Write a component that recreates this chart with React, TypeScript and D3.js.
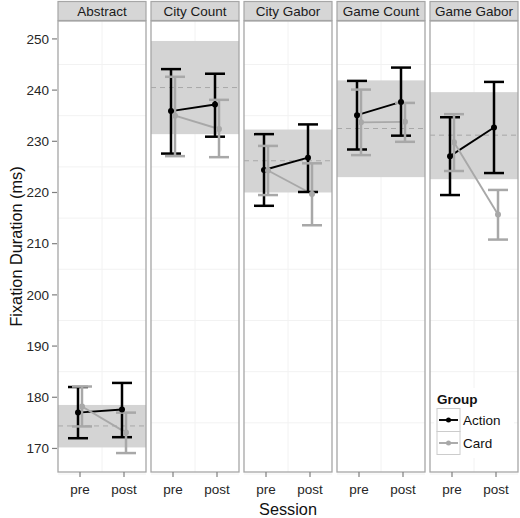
import React from "react";
import * as d3 from "d3";

const facets = ["Abstract", "City Count", "City Gabor", "Game Count", "Game Gabor"];
const sessions = ["pre", "post"];
const groups = ["Action", "Card"];

const actionMean = [[177.0, 177.6], [235.9, 237.2], [224.4, 226.8], [235.1, 237.7], [227.1, 232.7]];
const actionLower = [[172.0, 172.2], [227.6, 230.9], [217.4, 220.1], [228.4, 231.1], [219.5, 223.8]];
const actionUpper = [[182.0, 182.8], [244.1, 243.2], [231.4, 233.3], [241.8, 244.4], [234.7, 241.6]];

const cardMean = [[178.2, 173.1], [235.0, 232.4], [224.3, 219.7], [233.7, 233.8], [229.8, 215.7]];
const cardLower = [[174.3, 169.1], [227.1, 226.9], [219.5, 213.6], [227.3, 229.9], [224.2, 210.8]];
const cardUpper = [[182.1, 177.0], [242.6, 238.1], [229.1, 225.7], [240.1, 237.5], [235.3, 220.5]];

const bandLow = [170.2, 231.4, 220.0, 223.0, 222.6];
const bandHigh = [178.5, 249.6, 232.3, 241.9, 239.6];
const refLine = [174.4, 240.5, 226.2, 232.5, 231.2];

const yTicks = [170, 180, 190, 200, 210, 220, 230, 240, 250];
const yMinor = [165, 175, 185, 195, 205, 215, 225, 235, 245];

const W = 520;
const H = 518;
const top = 21;
const bottom = 472;
const left = 58;
const right = 518;
const FONT = "Liberation Sans, Arial, Helvetica, sans-serif";

const groupColor = ["#000000", "#a8a8a8"];
const dodge = [-2, 2];

export default function App() {
  const fx = d3.scaleBand<string>().domain(facets).range([left, right]).paddingInner(5 / 93).paddingOuter(0);
  const y = d3.scaleLinear().domain([165.4, 253.5]).range([bottom, top]);
  const bw = fx.bandwidth();
  const xs = d3.scalePoint<string>().domain(sessions).range([0, bw]).padding(0.5);
  const line = d3.line<[number, number]>().x((d) => d[0]).y((d) => d[1]);

  const series = [
    { mean: actionMean, lo: actionLower, hi: actionUpper },
    { mean: cardMean, lo: cardLower, hi: cardUpper },
  ];

  return (
    <svg width={W} height={H} style={{ position: "absolute", left: 0, top: 0, background: "#fff" }} fontFamily={FONT}>
      {/* y axis */}
      {yTicks.map((t) => (
        <g key={t}>
          <line x1={52} x2={57} y1={y(t)} y2={y(t)} stroke="#7f7f7f" strokeWidth={1.2} />
          <text x={49} y={y(t)} dy="0.35em" textAnchor="end" fontSize={13.5} fill="#262626">{t}</text>
        </g>
      ))}
      <text transform={`translate(16,${(top + bottom) / 2}) rotate(-90)`} textAnchor="middle" fontSize={16.3} fill="#111" dy="0.35em">
        Fixation Duration (ms)
      </text>
      <text x={(left + right) / 2} y={515} textAnchor="middle" fontSize={16.3} fill="#111">Session</text>

      {facets.map((f, i) => {
        const x0 = fx(f)!;
        return (
          <g key={f}>
            {/* strip */}
            <rect x={x0} y={1.5} width={bw} height={19} fill="#d6d6d6" stroke="#a6a6a6" strokeWidth={1.2} />
            <text x={x0 + bw / 2} y={11.5} dy="0.35em" textAnchor="middle" fontSize={13.5} fill="#1a1a1a">{f}</text>
            {/* panel */}
            <rect x={x0} y={top} width={bw} height={bottom - top} fill="#fff" />
            {yMinor.map((t) => (
              <line key={t} x1={x0} x2={x0 + bw} y1={y(t)} y2={y(t)} stroke="#f2f2f2" strokeWidth={1} />
            ))}
            <line x1={x0 + bw / 2} x2={x0 + bw / 2} y1={top} y2={bottom} stroke="#f2f2f2" strokeWidth={1} />
            {/* band */}
            <rect x={x0} y={y(bandHigh[i])} width={bw} height={y(bandLow[i]) - y(bandHigh[i])} fill="#d4d4d4" />
            <line x1={x0} x2={x0 + bw} y1={y(refLine[i])} y2={y(refLine[i])} stroke="#a8a8a8" strokeWidth={1} strokeDasharray="5,4" />
            {/* lines */}
            {series.map((s, g) => (
              <path key={"l" + g}
                d={line(sessions.map((se, k) => [x0 + xs(se)! + dodge[g], y(s.mean[i][k])]))!}
                fill="none" stroke={groupColor[g]} strokeWidth={1.9} />
            ))}
            {/* error bars */}
            {series.map((s, g) =>
              sessions.map((se, k) => {
                const cx = x0 + xs(se)! + dodge[g];
                return (
                  <g key={"e" + g + k} stroke={groupColor[g]} strokeWidth={2.5}>
                    <line x1={cx} x2={cx} y1={y(s.lo[i][k])} y2={y(s.hi[i][k])} />
                    <line x1={cx - 10} x2={cx + 10} y1={y(s.lo[i][k])} y2={y(s.lo[i][k])} />
                    <line x1={cx - 10} x2={cx + 10} y1={y(s.hi[i][k])} y2={y(s.hi[i][k])} />
                  </g>
                );
              })
            )}
            {/* points */}
            {series.map((s, g) =>
              sessions.map((se, k) => (
                <circle key={"p" + g + k} cx={x0 + xs(se)! + dodge[g]} cy={y(s.mean[i][k])} r={3} fill={groupColor[g]} />
              ))
            )}
            {/* border */}
            <rect x={x0} y={top} width={bw} height={bottom - top} fill="none" stroke="#a6a6a6" strokeWidth={1.3} />
            {/* x ticks */}
            {sessions.map((se) => (
              <g key={se}>
                <line x1={x0 + xs(se)!} x2={x0 + xs(se)!} y1={bottom} y2={bottom + 5} stroke="#7f7f7f" strokeWidth={1.2} />
                <text x={x0 + xs(se)!} y={489} dy="0.35em" textAnchor="middle" fontSize={13.5} fill="#262626">{se}</text>
              </g>
            ))}
          </g>
        );
      })}

      {/* legend */}
      <g>
        <rect x={434} y={388} width={80} height={70} fill="#fff" />
        <text x={437} y={399} dy="0.35em" fontSize={13.5} fontWeight="bold" fill="#111">Group</text>
        {groups.map((gname, g) => {
          const ky = 408.5 + g * 23;
          return (
            <g key={gname}>
              <rect x={437} y={ky} width={23} height={23} fill="#fff" stroke="#cccccc" strokeWidth={1} />
              <line x1={439} x2={458} y1={ky + 11.5} y2={ky + 11.5} stroke={groupColor[g]} strokeWidth={1.9} />
              <circle cx={448.5} cy={ky + 11.5} r={2.5} fill={groupColor[g]} />
              <text x={463} y={ky + 11.5} dy="0.35em" fontSize={13.5} fill="#111">{gname}</text>
            </g>
          );
        })}
      </g>
    </svg>
  );
}
